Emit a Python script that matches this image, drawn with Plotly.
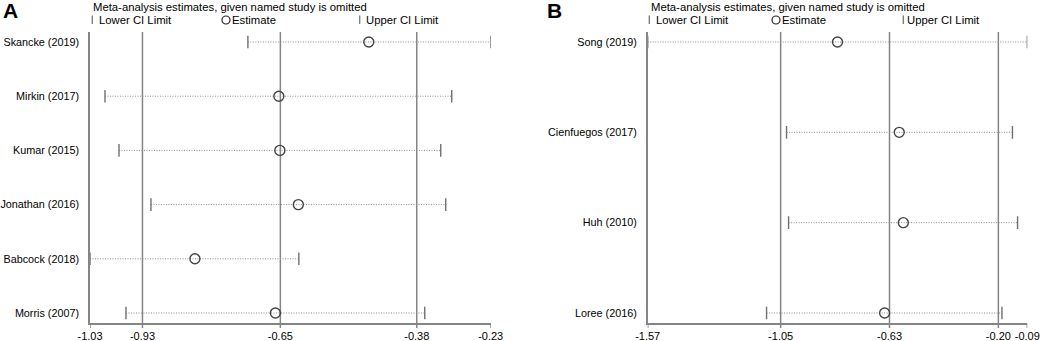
import plotly.graph_objects as go

# ---------------- Data ----------------
studies_A = ["Skancke (2019)", "Mirkin (2017)", "Kumar (2015)", "Jonathan (2016)", "Babcock (2018)", "Morris (2007)"]
est_A = [-0.473, -0.653, -0.651, -0.614, -0.821, -0.660]
lower_A = [-0.715, -1.001, -0.973, -0.909, -1.031, -0.959]
upper_A = [-0.229, -0.307, -0.329, -0.319, -0.613, -0.361]
overall_A = [-0.926, -0.650, -0.377]   # overall lower CI, estimate, upper CI

studies_B = ["Song (2019)", "Cienfuegos (2017)", "Huh (2010)", "Loree (2016)"]
est_B = [-0.831, -0.590, -0.574, -0.647]
lower_B = [-1.572, -1.030, -1.022, -1.108]
upper_B = [-0.090, -0.148, -0.128, -0.189]
overall_B = [-1.053, -0.628, -0.203]

header = "Meta-analysis estimates, given named study is omitted"
legend_labels = ["Lower CI Limit", "Estimate", "Upper CI Limit"]
W, H = 1053, 341
T, B = 32, 18
PH = H - T - B

FONT = "Liberation Sans, Arial, sans-serif"
GRAY = "#858585"
DOT = "#8c8c8c"
FS = 11.3

fig = go.Figure()


def py(ypx):
    return 1 + (T - ypx) / PH


def add_panel(fig, studies, est, lower, upper, overall, xname, yname, xdom, letter, letter_x, head_x, leg):
    n = len(studies)
    ys = list(range(n))
    xa = "x" if xname == "xaxis" else "x2"
    ya = "y" if yname == "yaxis" else "y2"
    # dotted CI lines
    lx, ly = [], []
    for i in range(n):
        lx += [lower[i], upper[i], None]
        ly += [ys[i], ys[i], None]
    fig.add_trace(go.Scatter(x=lx, y=ly, mode="lines", xaxis=xa, yaxis=ya,
                             line=dict(color=DOT, width=1, dash="1px,1.5px"), showlegend=False, hoverinfo="skip"))
    # CI end bars
    fig.add_trace(go.Scatter(x=lower + upper, y=ys + ys, mode="markers", xaxis=xa, yaxis=ya,
                             marker=dict(symbol="line-ns", size=9, line=dict(width=1.4, color="#707070")),
                             showlegend=False))
    # estimates
    fig.add_trace(go.Scatter(x=est, y=ys, mode="markers", xaxis=xa, yaxis=ya,
                             marker=dict(symbol="circle-open", size=10, color="#444", line=dict(width=1.4)),
                             showlegend=False))
    # overall vertical lines
    for v in overall:
        fig.add_shape(type="line", xref=xa, yref=f"{ya} domain", x0=v, x1=v, y0=0, y1=1,
                      line=dict(color=GRAY, width=1.5), layer="below")
    xmin, xmax = min(lower), max(upper)
    tv = [xmin] + overall + [xmax]
    # short tick marks below the x axis
    for v in tv:
        fig.add_shape(type="line", xref=xa, yref=f"{ya} domain", ysizemode="pixel", yanchor=0,
                      x0=v, x1=v, y0=-5, y1=0, line=dict(color=GRAY, width=1.5))
    pad = 10.0 / ((PH - 20.0) / (n - 1))
    fig.layout[xname] = dict(domain=xdom, range=[xmin, xmax], anchor=ya, showgrid=False, zeroline=False,
                             showline=True, linecolor=GRAY, linewidth=1.5, ticks="",
                             tickvals=tv, ticktext=[f"{v:.2f}" for v in tv],
                             tickangle=0, automargin=False, ticklabelstandoff=2,
                             tickfont=dict(family=FONT, size=11, color="#000"))
    fig.layout[yname] = dict(domain=[0, 1], range=[n - 1 + pad, -pad], anchor=xa, showgrid=False,
                             zeroline=False, showline=True, linecolor=GRAY, linewidth=1.5,
                             tickvals=ys, ticktext=studies, ticks="", ticklabelstandoff=7, automargin=False,
                             tickfont=dict(family=FONT, size=10.8, color="#000"))
    # panel letter + header
    fig.add_annotation(x=letter_x / W, y=py(10), xref="paper", yref="paper", text="<b>" + letter + "</b>",
                       showarrow=False, xanchor="left", yanchor="middle",
                       font=dict(family=FONT, size=21, color="#000"))
    fig.add_annotation(x=(head_x - 2) / W, y=py(6.5), xref="paper", yref="paper", text=header,
                       showarrow=False, xanchor="left", yanchor="middle",
                       font=dict(family=FONT, size=FS, color="#000"))
    # legend row: bar / circle / bar symbols as shapes, then labels
    (b1, t1), (c2, t2), (b3, t3) = leg
    for bx in (b1, b3):
        fig.add_shape(type="line", xref="paper", yref="paper", x0=bx / W, x1=bx / W, y0=py(15.5), y1=py(24),
                      line=dict(color="#777", width=1.3))
    fig.add_shape(type="circle", xref="paper", yref="paper", xsizemode="pixel", ysizemode="pixel",
                  xanchor=c2 / W, yanchor=py(20), x0=-4, x1=4, y0=-4, y1=4,
                  line=dict(color="#222", width=1.2))
    for tx, lab in zip((t1, t2, t3), legend_labels):
        fig.add_annotation(x=(tx - 2) / W, y=py(20), xref="paper", yref="paper", text=lab,
                           showarrow=False, xanchor="left", yanchor="middle",
                           font=dict(family=FONT, size=FS, color="#000"))


add_panel(fig, studies_A, est_A, lower_A, upper_A, overall_A, "xaxis", "yaxis",
          [90 / W, 490.7 / W], "A", 1, 93, [(92.3, 98.7), (226, 232.3), (359.7, 366)])
add_panel(fig, studies_B, est_B, lower_B, upper_B, overall_B, "xaxis2", "yaxis2",
          [647.7 / W, 1027.3 / W], "B", 545, 650.7, [(649.3, 655.7), (776, 782), (903.3, 907)])

fig.update_layout(width=W, height=H, margin=dict(l=0, r=0, t=T, b=B, autoexpand=False),
                  plot_bgcolor="white", paper_bgcolor="white", showlegend=False)

fig.write_html("out.html", config={"displayModeBar": False},
               post_script="document.body.style.margin='0px';document.body.style.padding='0px';")
